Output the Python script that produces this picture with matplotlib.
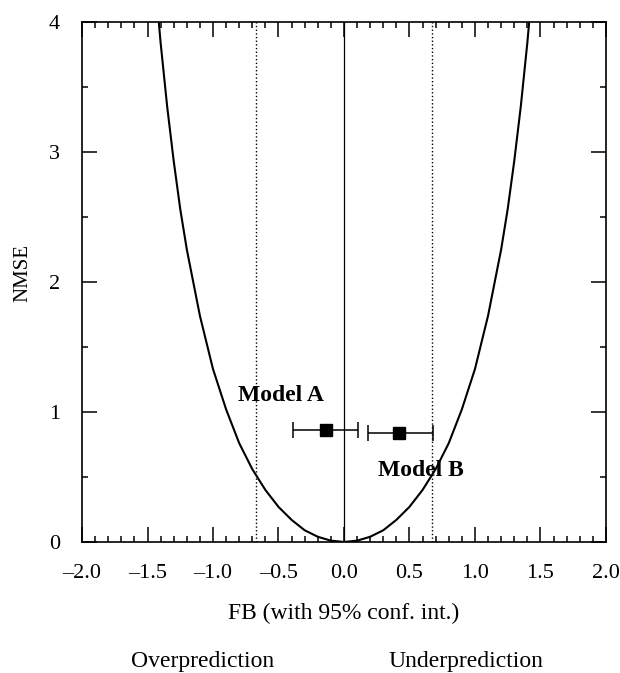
"""FB vs NMSE diagram with model results and 95% confidence intervals."""

import matplotlib
matplotlib.use("Agg")
import matplotlib.pyplot as plt
from matplotlib.ticker import MultipleLocator

plt.rcParams['font.family'] = ['Liberation Serif', 'DejaVu Serif']

# minimum NMSE curve
curve_fb = [-1.414, -1.4, -1.35, -1.3, -1.25, -1.2, -1.1, -1.0, -0.9, -0.8, -0.7,
            -0.6, -0.5, -0.4, -0.3, -0.2, -0.1, 0.0, 0.1, 0.2, 0.3, 0.4, 0.5,
            0.6, 0.7, 0.8, 0.9, 1.0, 1.1, 1.2, 1.25, 1.3, 1.35, 1.4, 1.414]
curve_nmse = [4.0, 3.84, 3.35, 2.93, 2.56, 2.25, 1.74, 1.33, 1.02, 0.76, 0.56,
              0.40, 0.27, 0.17, 0.09, 0.04, 0.01, 0.0, 0.01, 0.04, 0.09, 0.17, 0.27,
              0.40, 0.56, 0.76, 1.02, 1.33, 1.74, 2.25, 2.56, 2.93, 3.35, 3.84, 4.0]

# factor-of-two bounds on FB
fac2_fb = [-0.67, 0.67]

# model results: FB, NMSE and 95% confidence limits on FB
models = ["Model A", "Model B"]
model_fb = [-0.14, 0.42]
model_nmse = [0.86, 0.84]
fb_low = [-0.39, 0.18]
fb_high = [0.11, 0.68]

xtick_vals = [-2.0, -1.5, -1.0, -0.5, 0.0, 0.5, 1.0, 1.5, 2.0]
xtick_text = ['\u20132.0', '\u20131.5', '\u20131.0', '\u20130.5', '0.0',
              '0.5', '1.0', '1.5', '2.0']

fig = plt.figure(figsize=(6.2, 6.73), dpi=100)
ax = fig.add_axes([0.1323, 0.1947, 0.845, 0.7727])

ax.plot(curve_fb, curve_nmse, color='black', linewidth=1.5)
for x in fac2_fb:
    ax.axvline(x, color='black', linestyle=':', linewidth=1.0)
ax.axvline(0.0, color='black', linewidth=0.9)

for i in range(len(models)):
    err = [[model_fb[i] - fb_low[i]], [fb_high[i] - model_fb[i]]]
    ax.errorbar([model_fb[i]], [model_nmse[i]], xerr=err, fmt='s', color='black',
                markersize=8, capsize=6, elinewidth=1.1, capthick=1.1)

ax.text(-0.81, 1.13, models[0], fontsize=17, fontweight='bold', va='center', ha='left')
ax.text(0.26, 0.55, models[1], fontsize=17, fontweight='bold', va='center', ha='left')

ax.set_xlim(-2.0, 2.0)
ax.set_ylim(0, 4)
ax.xaxis.set_minor_locator(MultipleLocator(0.1))
ax.yaxis.set_major_locator(MultipleLocator(1))
ax.yaxis.set_minor_locator(MultipleLocator(0.5))
ax.set_xticks(xtick_vals)
ax.set_xticklabels(xtick_text)
ax.tick_params(which='both', direction='in', top=True, right=True, width=1.1,
               labelsize=16)
ax.tick_params(which='major', length=11)
ax.tick_params(which='minor', length=4)
ax.tick_params(axis='x', which='major', pad=16)
ax.tick_params(axis='y', which='major', pad=16)
for s in ax.spines.values():
    s.set_linewidth(1.2)

ax.set_ylabel('NMSE', fontsize=15)
ax.yaxis.set_label_coords(-0.095, 0.517)
ax.set_xlabel('FB (with 95% conf. int.)', fontsize=17, labelpad=14)

fig.text(203 / 620, 1 - 662 / 673, 'Overprediction', fontsize=17, ha='center', va='center')
fig.text(466 / 620, 1 - 662 / 673, 'Underprediction', fontsize=17, ha='center', va='center')

fig.savefig('out.png', dpi=100)
